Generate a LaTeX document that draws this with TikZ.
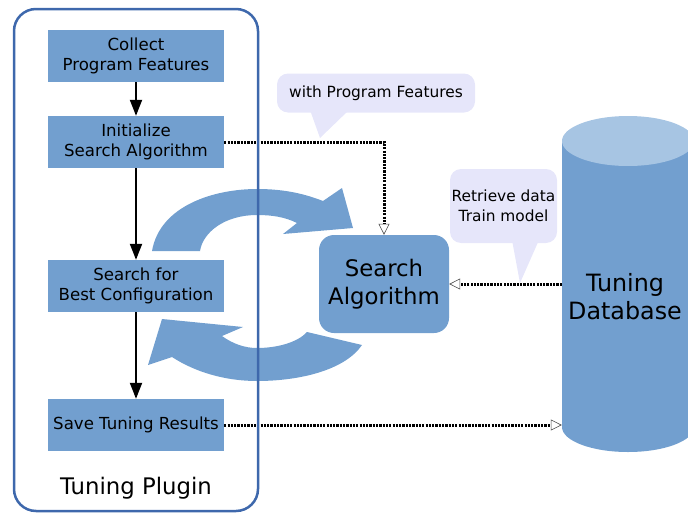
\documentclass[tikz,border=0pt]{standalone}
\usepackage{fontspec}
\setmainfont{DejaVu Sans}
\usepackage{xcolor}
\definecolor{tpblue}{RGB}{114,159,207}
\definecolor{tpframe}{RGB}{62,104,172}
\definecolor{tptop}{RGB}{167,197,227}
\definecolor{tplavender}{RGB}{230,230,250}
\usetikzlibrary{arrows.meta}

\begin{document}
\begin{tikzpicture}[x=1pt, y=-1pt,
    stepbox/.style={fill=tpblue, minimum width=176pt, minimum height=52pt, inner sep=0pt,
        align=center, font=\fontsize{16.6}{20.5}\selectfont},
    flow/.style={-{Triangle[length=16pt, width=12pt]}, line width=2pt, black},
    dataflow/.style={-{Triangle[open, fill=white, color=black!70, line width=0.6pt, length=11pt, width=11pt]},
        line width=3pt, dash pattern=on 2.2pt off 1.1pt, black},
    note/.style={fill=tplavender, rounded corners=11pt, inner sep=0pt, align=center,
        font=\fontsize{15.4}{20}\selectfont}]
\useasboundingbox (0,0) rectangle (688,514);

% === Plugin steps ===
\node[stepbox] (collect) at (136,56) {Collect\\Program Features};
\node[stepbox] (init) at (136,142) {Initialize\\Search Algorithm};
\node[stepbox] (searchbest) at (136,286) {Search for\\Best Configuration};
\node[stepbox] (save) at (136,425) {Save Tuning Results};

\draw[flow] (collect) -- (init);
\draw[flow] (init) -- (searchbest);
\draw[flow] (searchbest) -- (save);

% === Cycle arrows ===
\fill[tpblue] (152,251) .. controls (160,205) and (215,189) .. (257,189)
    .. controls (285,189) and (305,194) .. (323,201) -- (342,188) -- (353,228) -- (283,234) -- (297,223)
    .. controls (285,217) and (272,215) .. (257,215) .. controls (225,215) and (203,232) .. (200,251) -- cycle;
\fill[tpblue] (362,345) .. controls (345,370) and (300,381) .. (257,381)
    .. controls (225,381) and (195,372) .. (172,357) -- (148,365) -- (162,319) -- (243,327) -- (222,336)
    .. controls (233,344) and (245,348) .. (257,348) .. controls (278,348) and (298,342) .. (307,332) -- cycle;

% === Search Algorithm ===
\node[fill=tpblue, rounded corners=15pt, minimum width=130pt, minimum height=98pt, inner sep=0pt,
      align=center, font=\fontsize{22.8}{28}\selectfont] (algo) at (384,284) {Search\\Algorithm};

% === Tuning Database (cylinder) ===
\fill[tpblue] (562,141) -- (562,427) arc[start angle=180, end angle=360, x radius=66, y radius=-25]
    -- (694,141) -- cycle;
\fill[tptop] (628,141) ellipse[x radius=66, y radius=25];
\node[minimum width=126pt, minimum height=286pt, inner sep=0pt, align=center,
      font=\fontsize{23.8}{28}\selectfont] (db) at (625,297) {Tuning\\Database};

% === Notes ===
\node[note, minimum width=198pt, minimum height=39pt] (featnote) at (376,93) {with Program Features};
\fill[tplavender] (310,110) -- (320,138) -- (349,110) -- cycle;
\node[note, minimum width=107pt, minimum height=74pt] (trainnote) at (503.5,206) {Retrieve data\\Train model};
\fill[tplavender] (512,240) -- (520,283) -- (539,240) -- cycle;

% === Data connectors ===
\draw[dataflow] (init.east) -| (algo.north);
\draw[dataflow] (db.west |- algo.east) -- (algo.east);
\draw[dataflow] (save.east) -- (save.east -| db.west);

% === Plugin frame ===
\node[draw=tpframe, line width=2.5pt, rounded corners=22pt, minimum width=244pt, minimum height=502pt,
      inner sep=0pt] (plugin) at (136,260) {};
\node[font=\fontsize{22.8}{26}\selectfont, inner sep=0pt] (pluginlabel) at (136,488) {Tuning Plugin};

\end{tikzpicture}
\end{document}
